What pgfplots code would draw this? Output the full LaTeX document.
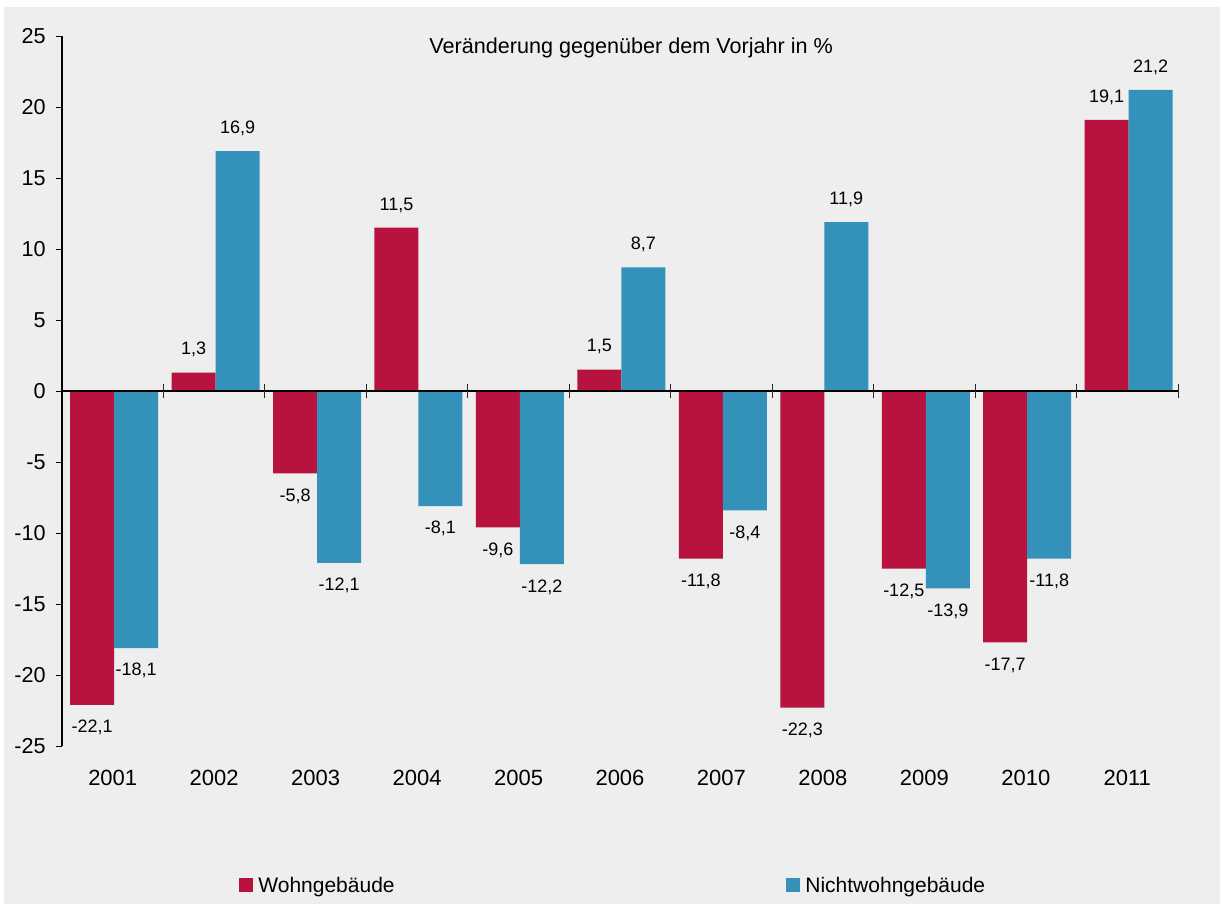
\documentclass[border=0pt]{standalone}
\usepackage{fontspec}
\setmainfont{Liberation Sans}
\usepackage{pgfplots}
\pgfplotsset{compat=1.18}
\definecolor{bgc}{RGB}{237,238,237}
\definecolor{wohn}{RGB}{183,19,62}
\definecolor{nicht}{RGB}{52,145,186}
\begin{document}
\begin{tikzpicture}
\path[use as bounding box] (-31pt,-80pt) rectangle (580pt,373pt);
\fill[bgc] (-29pt,-79pt) rectangle (579pt,369.5pt);
\begin{axis}[
  at={(0,0)}, anchor=south west,
  scale only axis, width=558pt, height=355pt,
  xmin=-0.5, xmax=10.5, ymin=-25, ymax=25,
  axis x line=bottom, axis y line=left,
  x axis line style={draw=none},
  y axis line style={-, black, line width=0.6pt},
  xtick={0,...,10},
  xticklabels={2001,2002,2003,2004,2005,2006,2007,2008,2009,2010,2011},
  x tick style={draw=none},
  major x tick style={draw=none},
  xticklabel style={font=\fontsize{11}{13}\selectfont, inner ysep=0pt, yshift=-9pt},
  ytick={-25,-20,...,25},
  tick align=outside,
  major tick length=3pt,
  y tick style={black, line width=0.5pt},
  yticklabel style={font=\fontsize{10.8}{12}\selectfont, inner xsep=0pt, xshift=-5pt},
  /pgf/number format/assume math mode=true,
  ybar=0pt, bar width=22pt,
  nodes near coords={\pgfmathprintnumber[fixed,fixed zerofill,precision=1,use comma,assume math mode=true]{\pgfplotspointmeta}},
  every node near coord/.append style={font=\fontsize{9}{11}\selectfont, inner ysep=7.5pt, inner xsep=0pt, black},
  clip=false,
]
\addplot[fill=wohn, draw=none, bar shift=-10.3pt] coordinates {
(0,-22.1) (1,1.3) (2,-5.8) (3,11.5) (4,-9.6) (5,1.5) (6,-11.8) (7,-22.3) (8,-12.5) (9,-17.7) (10,19.1)};
\addplot[fill=nicht, draw=none, bar shift=11.7pt] coordinates {
(0,-18.1) (1,16.9) (2,-12.1) (3,-8.1) (4,-12.2) (5,8.7) (6,-8.4) (7,11.9) (8,-13.9) (9,-11.8) (10,21.2)};
\draw[black, line width=0.6pt] (axis cs:-0.5,0) -- (axis cs:10.5,0);
\pgfplotsinvokeforeach{0.5,1.5,2.5,3.5,4.5,5.5,6.5,7.5,8.5,9.5,10.5}{
  \draw[black!85, line width=0.5pt] ([yshift=-3.5pt]axis cs:#1,0) -- ([yshift=3.5pt]axis cs:#1,0);
}
\node[anchor=base, inner sep=0pt, font=\fontsize{10.8}{12}\selectfont] at (rel axis cs:0.51,0.976) {Veränderung gegenüber dem Vorjahr in \%};
\end{axis}
\fill[wohn] (88.5pt,-73pt) rectangle (95.5pt,-66pt);
\node[anchor=base west, inner sep=0pt, font=\fontsize{10.5}{12}\selectfont] at (98pt,-73pt) {Wohngebäude};
\fill[nicht] (362pt,-73pt) rectangle (369pt,-66pt);
\node[anchor=base west, inner sep=0pt, font=\fontsize{10.5}{12}\selectfont] at (371.5pt,-73pt) {Nichtwohngebäude};
\end{tikzpicture}
\end{document}
